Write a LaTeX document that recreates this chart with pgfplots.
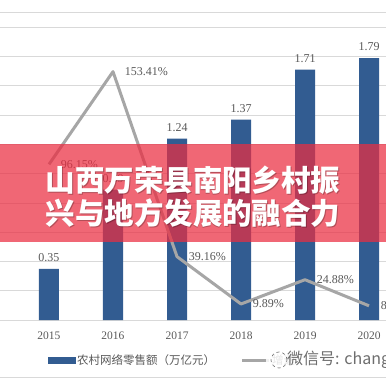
\documentclass[border=0pt]{standalone}
\usepackage{pgfplots}
\pgfplotsset{compat=1.18}
\usepackage{fontspec}
\setmainfont{Liberation Serif}
\newfontfamily\cjk{Noto Sans CJK SC}
\definecolor{barblue}{RGB}{50,92,145}
\definecolor{linegray}{RGB}{166,166,166}
\definecolor{labelgray}{RGB}{89,89,89}
\definecolor{gridgray}{RGB}{217,217,217}
\definecolor{bannerred}{RGB}{235,45,65}
\definecolor{wmgray}{RGB}{110,110,110}
\begin{document}
\begin{tikzpicture}[x=1pt,y=1pt]
\useasboundingbox (0,0) rectangle (386,386);
\fill[white] (0,0) rectangle (386,386);
\begin{scope}
\clip (0,0) rectangle (386,386);
\draw[gridgray, line width=0.8pt] (0,373.7) -- (386,373.7);
\draw[gridgray, line width=1pt] (0,8.3) -- (386,8.3);
\begin{axis}[
  at={(-15pt,66pt)}, anchor=south west,
  width=448pt, height=292.7pt, scale only axis,
  xmin=2014, xmax=2021, ymin=0, ymax=2,
  ytick={0,0.2,...,2.01}, yticklabels={}, ytick style={draw=none},
  ymajorgrids, grid style={gridgray, line width=0.8pt},
  axis line style={draw=none},
  xtick={2015,2016,2017,2018,2019,2020},
  xticklabels={2015,2016,2017,2018,2019,2020},
  xtick style={draw=none},
  xticklabel style={text=labelgray, font=\fontsize{11.5}{13}\selectfont, yshift=-8pt},
  /pgf/number format/assume math mode=true,
  legend columns=2,
  legend style={draw=none, fill=none, at={(0.1406,-0.1367)}, anchor=west,
    inner sep=0pt, font=\cjk\fontsize{11.5}{13}\selectfont, text=labelgray,
    nodes={inner sep=1.5pt}},
  /tikz/every even column/.append style={column sep=24pt},
]
\addplot[ybar, bar width=20pt, fill=barblue, draw=none, forget plot,
  nodes near coords, point meta=explicit symbolic,
  every node near coord/.append style={text=labelgray, font=\fontsize{12}{13}\selectfont, yshift=3.5pt}]
  coordinates {(2015,0.35)[0.35] (2016,0.89)[0.89] (2017,1.24)[1.24] (2018,1.37)[1.37] (2019,1.71)[1.71] (2020,1.79)[1.79]};
\addlegendimage{legend image code/.code={\fill[barblue] (0pt,-3pt) rectangle (27pt,3pt);}}
\addlegendentry{农村网络零售额（万亿元）}
\addlegendimage{legend image code/.code={\draw[linegray, line width=3pt] (0pt,0pt) -- (27pt,0pt);}}
\addlegendentry{增速}
\end{axis}
\begin{axis}[
  at={(-15pt,66pt)}, anchor=south west,
  width=448pt, height=292.7pt, scale only axis,
  xmin=2014, xmax=2021, ymin=0, ymax=180.8,
  hide axis, clip=false,
]
\addplot[linegray, line width=3pt, line join=round, mark=none,
  nodes near coords, point meta=explicit symbolic,
  every node near coord/.append style={text=labelgray, font=\fontsize{12}{13}\selectfont, anchor=west, xshift=7pt}]
  coordinates {(2015,96.15)[96.15\%] (2016,153.41)[153.41\%] (2017,39.16)[39.16\%] (2018,9.89)[9.89\%] (2019,24.88)[24.88\%] (2020,8.77)[8.77\%]};
\end{axis}
% overlay banner
\fill[bannerred, opacity=0.72] (0,144) rectangle (386,242);
\node[text=black, opacity=0.25, font=\cjk\bfseries\fontsize{29.5}{33}\selectfont, align=center] at (194,188.5) {山西万荣县南阳乡村振\\兴与地方发展的融合力};
\node[text=white, font=\cjk\bfseries\fontsize{29.5}{33}\selectfont, align=center] at (193,189.5) {山西万荣县南阳乡村振\\兴与地方发展的融合力};
% watermark
\fill[white, opacity=0.85] (266,17) rectangle (386,36);
\draw[wmgray, dashed, line width=0.6pt] (279,26) circle (8);
\node[anchor=west, inner sep=0pt, text=wmgray, font=\cjk\fontsize{16}{18}\selectfont] at (287,26) {微信号: chang};
\end{scope}
\end{tikzpicture}
\end{document}
